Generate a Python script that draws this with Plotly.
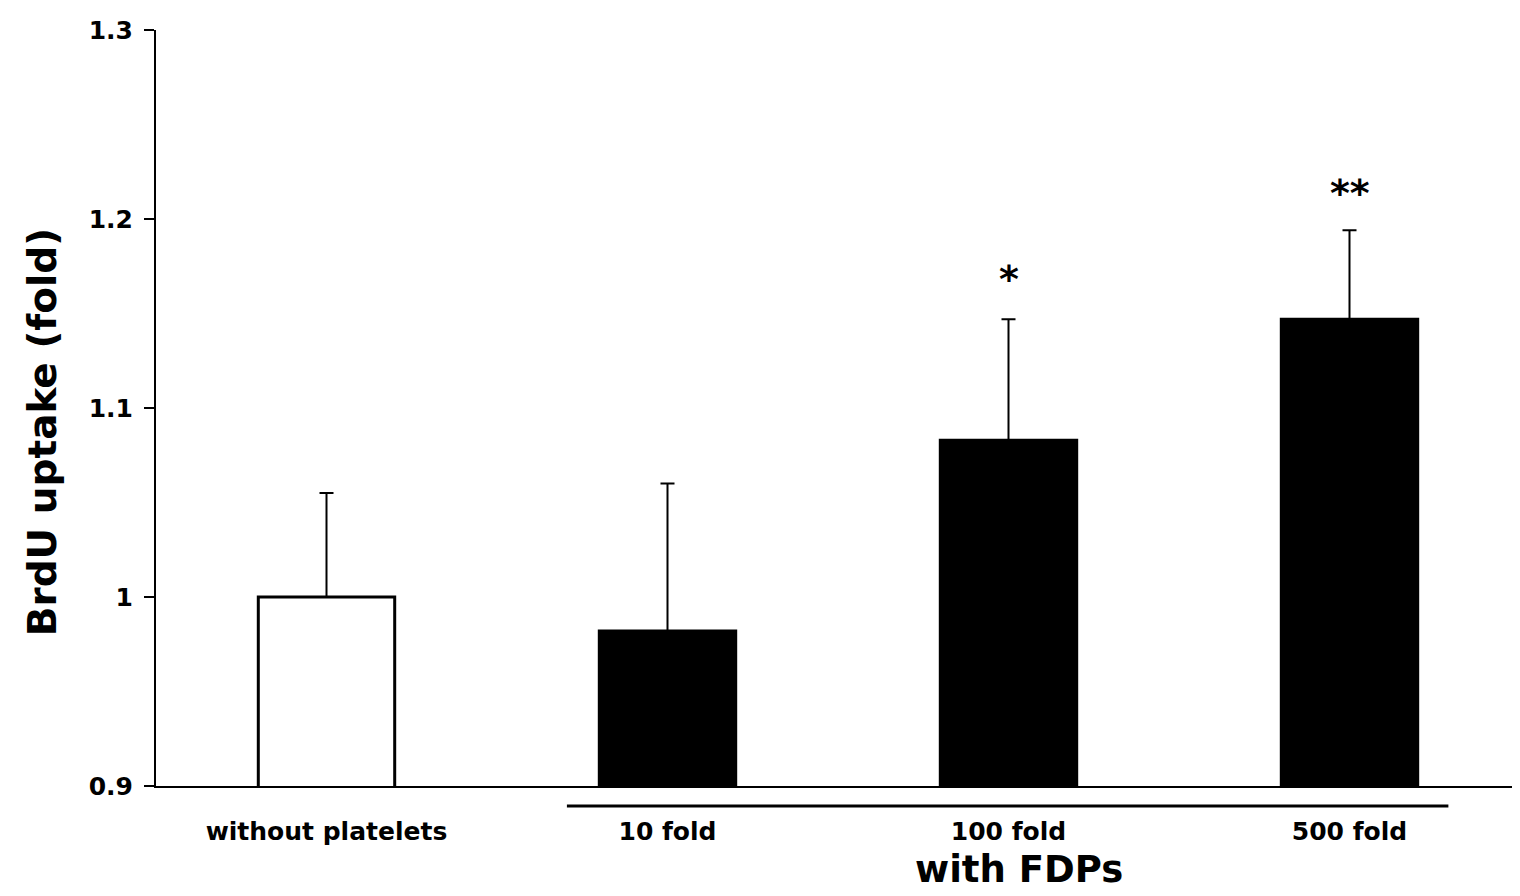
import plotly.graph_objects as go

categories = ["without platelets", "10 fold", "100 fold", "500 fold"]
values = [1.0, 0.982, 1.083, 1.147]
errors_plus = [0.055, 0.078, 0.064, 0.047]
bar_colors = ["white", "black", "black", "black"]
y_ticks = [0.9, 1.0, 1.1, 1.2, 1.3]
y_tick_labels = ["0.9", "1", "1.1", "1.2", "1.3"]
sig_labels = ["", "", "*", "**"]
sig_y = [None, None, 1.168, 1.214]
group_label = "with FDPs"
y_title = "BrdU uptake (fold)"

FONT = "DejaVu Sans"

fig = go.Figure()
fig.add_trace(go.Bar(
    x=categories,
    y=values,
    width=0.4,
    marker=dict(color=bar_colors, line=dict(color="black", width=3)),
    error_y=dict(type="data", symmetric=False, array=errors_plus,
                 arrayminus=[0] * len(values), color="black",
                 thickness=2, width=7),
    showlegend=False,
))

for cat, lab, yy in zip(categories, sig_labels, sig_y):
    if lab:
        fig.add_annotation(x=cat, y=yy, text=f"<b>{lab}</b>", showarrow=False,
                           font=dict(family=FONT, size=38, color="black"),
                           xanchor="center", yanchor="middle")

# group underline under FDP categories
fig.add_shape(type="line", xref="x", yref="paper",
              x0=0.705, x1=3.29, y0=-0.0265, y1=-0.0265,
              line=dict(color="black", width=3))
fig.add_annotation(xref="x", yref="paper", x=2.03, y=-0.11,
                   text=f"<b>{group_label}</b>", showarrow=False,
                   font=dict(family=FONT, size=37, color="black"),
                   xanchor="center", yanchor="middle")

# y-axis title
fig.add_annotation(xref="paper", yref="paper", x=-0.0835, y=0.468,
                   text=f"<b>{y_title}</b>", showarrow=False, textangle=-90,
                   font=dict(family=FONT, size=39, color="black"),
                   xanchor="center", yanchor="middle")

fig.update_layout(
    width=1512, height=888,
    margin=dict(l=148, r=0, t=22, b=110),
    paper_bgcolor="white", plot_bgcolor="white",
    font=dict(family=FONT, color="black"),
    bargap=0.6,
)
fig.update_xaxes(
    showline=True, linecolor="black", linewidth=2,
    ticks="", showgrid=False, zeroline=False,
    tickfont=dict(family=FONT, size=25, color="black", weight="bold"),
    ticklabelstandoff=22,
)
fig.update_yaxes(
    range=[0.9, 1.3], tickvals=y_ticks, ticktext=y_tick_labels,
    showline=True, linecolor="black", linewidth=2,
    ticks="outside", ticklen=10, tickwidth=2, tickcolor="black",
    showgrid=False, zeroline=False,
    tickfont=dict(family=FONT, size=25, color="black", weight="bold"),
    ticklabelstandoff=6,
)

fig.write_html("out.html")
